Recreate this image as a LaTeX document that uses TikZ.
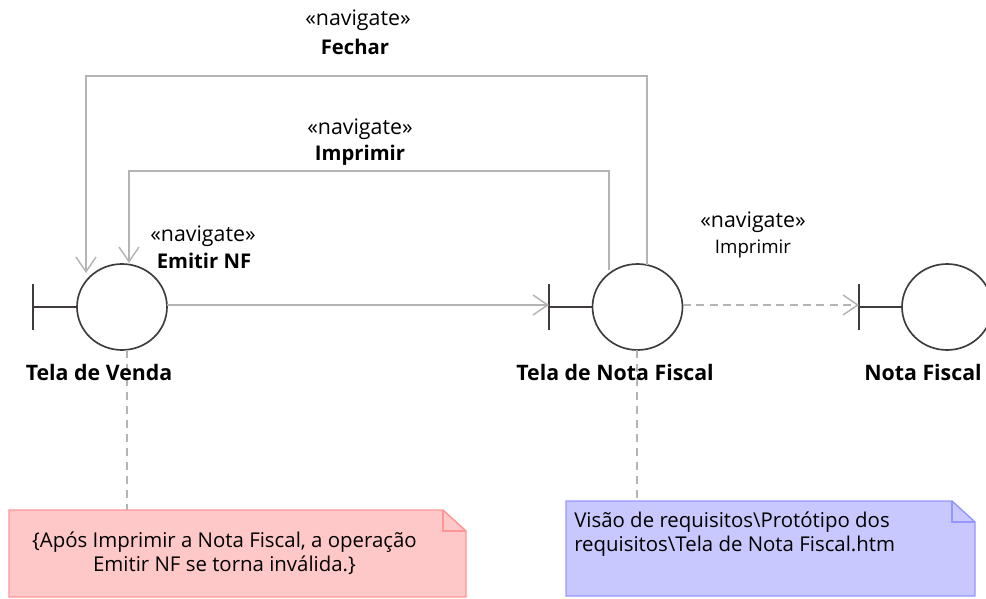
\documentclass[tikz,border=0pt]{standalone}
\usepackage{fontspec}
\setmainfont{Open Sans}
\usetikzlibrary{arrows.meta,shapes.geometric,calc}
\definecolor{linegray}{HTML}{B4B4B4}
\definecolor{bound}{HTML}{403C3C}
\definecolor{pinkfill}{HTML}{FFC8C8}
\definecolor{pinkline}{HTML}{FF9696}
\definecolor{bluefill}{HTML}{C8C8FF}
\definecolor{blueline}{HTML}{9696FF}
\tikzset{
  x=0.75pt,y=-0.75pt,
  boundary/.style={ellipse,draw=bound,line width=1.25pt,fill=white,minimum width=67.5pt,minimum height=64.5pt,inner sep=0pt},
  stem/.style={draw=bound,line width=1.25pt},
  nav/.style={draw=linegray,line width=1.1pt,-{Straight Barb[length=11pt,width=15pt,line width=1.1pt]}},
  navdash/.style={nav,dash pattern=on 6pt off 4pt},
  attach/.style={draw=linegray,line width=1.1pt,dash pattern=on 6pt off 4.5pt},
  stereo/.style={font=\fontsize{16pt}{18pt}\selectfont,align=center,inner sep=0pt},
  lab/.style={font=\fontsize{14pt}{18pt}\selectfont,align=center,inner sep=0pt},
  notetext/.style={font=\fontsize{15.3pt}{18pt}\selectfont,inner sep=0pt},
  blab/.style={font=\fontsize{15.2pt}{18pt}\selectfont\bfseries,align=center,inner sep=0pt},
  namelab/.style={font=\fontsize{16pt}{18pt}\selectfont\bfseries,align=center,inner sep=0pt},
}
\begin{document}
\begin{tikzpicture}
\useasboundingbox (0,0) rectangle (986,599);
\clip (0,0) rectangle (986,599);
% note bodies
\coordinate (nAtl) at (9,510); \coordinate (nAbr) at (466,597);
\coordinate (nBtl) at (566,501); \coordinate (nBbr) at (975,596);
\fill[pinkfill,draw=pinkline,line width=1.1pt] (nAtl) -- (443,510) -- (466,531) -- (nAbr) -- (9,597) -- cycle;
\draw[pinkline,line width=1.1pt] (443,510) -- (443,531) -- (466,531);
\fill[bluefill,draw=blueline,line width=1.1pt] (nBtl) -- (952,501) -- (975,522) -- (nBbr) -- (566,596) -- cycle;
\draw[blueline,line width=1.1pt] (952,501) -- (952,522) -- (975,522);
% boundaries
\node[boundary] (venda) at (122,307) {};
\node[boundary] (tela) at (637.5,307) {};
\node[boundary] (nota) at (947,307) {};
\coordinate (barA) at (33,307);
\coordinate (barB) at (549,307);
\coordinate (barC) at (859,307);
\foreach \b/\e in {barA/venda,barB/tela,barC/nota}{
  \draw[stem] (\b) -- (\e.west);
  \draw[stem] ($(\b)+(0,-23)$) -- ($(\b)+(0,23)$);
}
% connector anchors
\coordinate (fS) at (647,265);
\coordinate (fT) at (86,273);
\coordinate (iS) at (609,270);
\coordinate (iT) at (129,263);
\coordinate (eS) at (167,305);
\coordinate (eT) at (549,305);
\coordinate (dS) at (683,305);
\coordinate (dT) at (859,305);
\coordinate (n1) at (127,510);
\coordinate (n2) at (637,501);
\coordinate (v1) at (127,350);
\coordinate (v2) at (637,350);
\draw[nav] (fS) -- (647,76) -- (86,76) -- (fT);
\draw[nav] (iS) -- (609,171) -- (129,171) -- (iT);
\draw[nav] (eS) -- (eT);
\draw[navdash] (dS) -- (dT);
\draw[attach] (v1) -- (n1);
\draw[attach] (v2) -- (n2);
% labels
\node[stereo] (l1) at (358,20) {«navigate»};
\node[blab] (l1b) at (355,47) {Fechar};
\node[stereo] (l2) at (360,129) {«navigate»};
\node[blab] (l2b) at (360,155) {Imprimir};
\node[stereo] (l3) at (203,236) {«navigate»};
\node[blab] (l3b) at (204,261) {Emitir NF};
\node[stereo] (l4) at (753,222) {«navigate»};
\node[lab] (l4b) at (753,249) {Imprimir};
\node[namelab] (nm1) at (99,372) {Tela de Venda};
\node[namelab] (nm2) at (615,372) {Tela de Nota Fiscal};
\node[namelab] (nm3) at (923,372) {Nota Fiscal};
\node[notetext,align=center] (t1) at (224.5,553) {\{Após Imprimir a Nota Fiscal, a operação\\Emitir NF se torna inválida.\}};
\node[notetext,align=left,anchor=north west] (t2) at (574,512) {Visão de requisitos\textbackslash Protótipo dos\\requisitos\textbackslash Tela de Nota Fiscal.htm};
\end{tikzpicture}
\end{document}
